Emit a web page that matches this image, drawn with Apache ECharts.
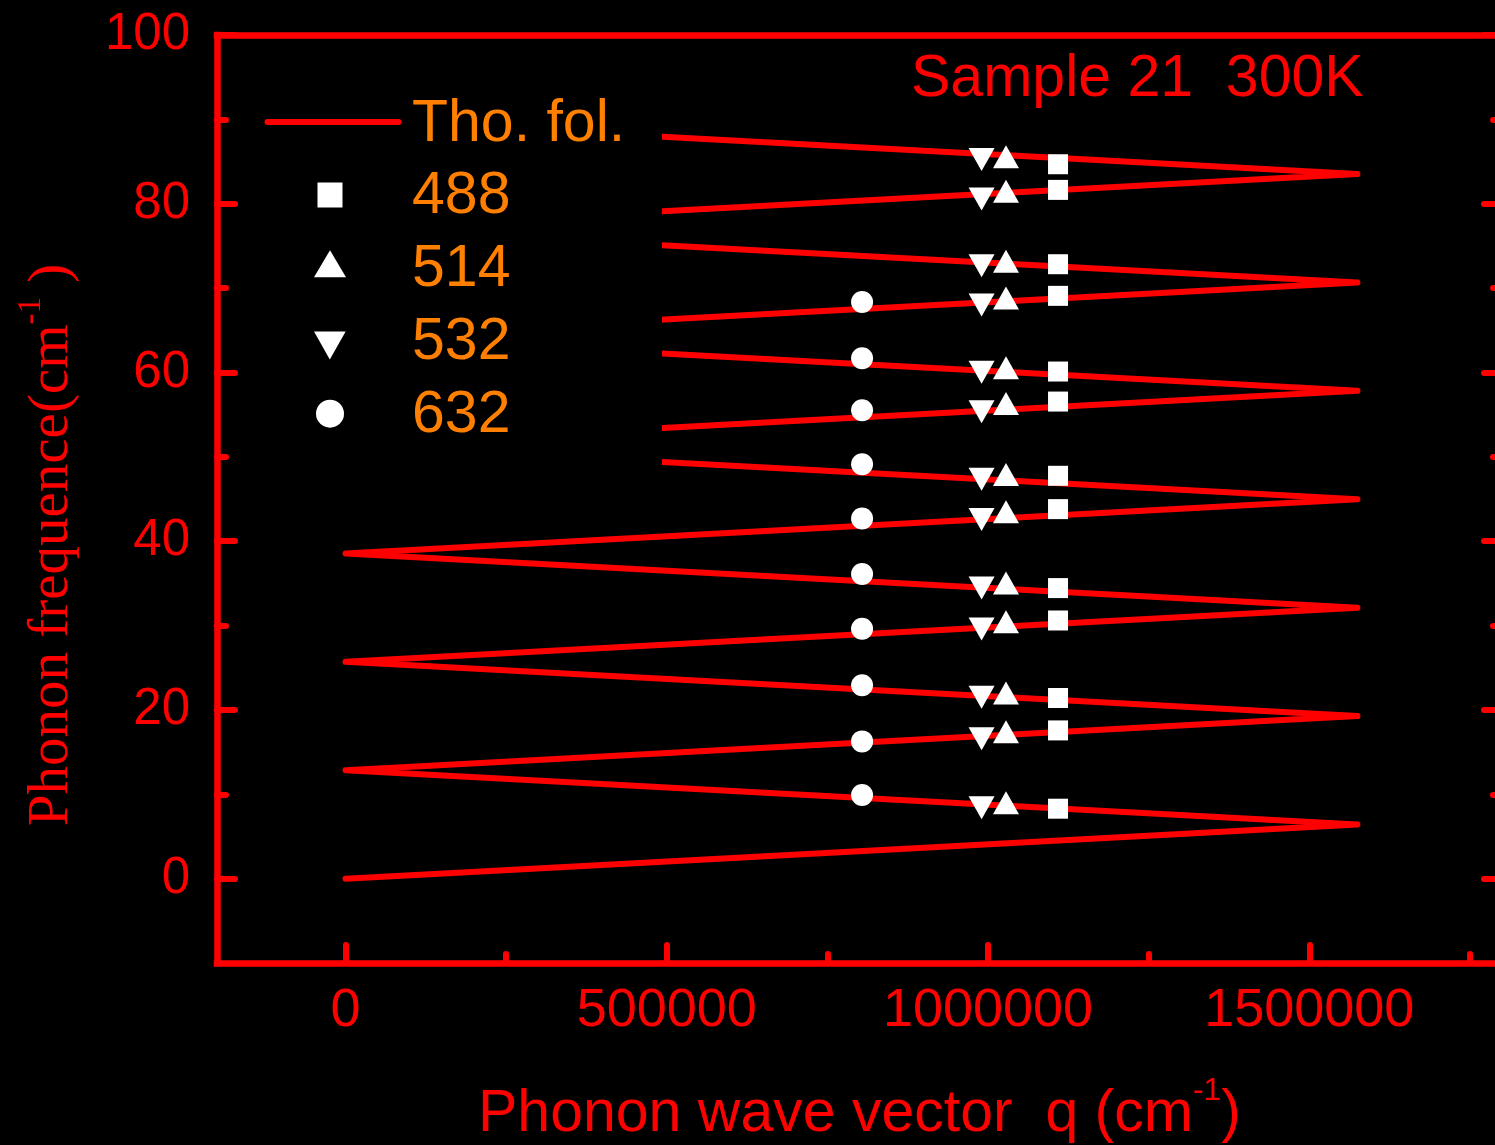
<!DOCTYPE html>
<html>
<head>
<meta charset="utf-8">
<title>Phonon dispersion, Sample 21, 300K</title>
<script src="https://cdn.jsdelivr.net/npm/echarts@6/dist/echarts.min.js"></script>
<style>
  html, body { margin: 0; padding: 0; background: #000; }
  #chart { width: 1495px; height: 1145px; }
</style>
</head>
<body>
<div id="chart"></div>
<script>
// Folded acoustic branch: vertices of the zigzag (wave vector q, frequency)
const foldQ = [0, 1575000, 0, 1575000, 0, 1575000, 0, 1575000, 0, 1575000, 0, 1575000, 0, 1575000, 0];
const foldFreq = [0, 6.42, 12.85, 19.27, 25.70, 32.12, 38.55, 44.97, 51.40, 57.82, 64.25, 70.67, 77.10, 83.52, 89.95];

// Measured Raman peaks for each excitation wavelength (nm)
const laserNames = ['488', '514', '532', '632'];
const laserQ = [1109000, 1028000, 990000, 804000];
const freq488 = [84.68, 81.64, 72.83, 69.08, 60.11, 56.55, 47.75, 43.80, 34.44, 30.60, 21.41, 17.57, 8.29];
const freq514 = [85.58, 81.48, 73.19, 68.84, 60.55, 56.32, 47.90, 43.48, 35.04, 30.45, 22.00, 17.42, 9.00];
const freq532 = [85.25, 80.55, 72.65, 68.01, 60.01, 55.33, 47.33, 42.57, 34.44, 29.60, 21.50, 16.59, 8.41];
const freq632 = [68.34, 61.69, 55.51, 49.11, 42.68, 36.10, 29.62, 22.93, 16.27, 9.92];

// Axis ticks
const xMajorTicks = [0, 500000, 1000000, 1500000];
const xMinorTicks = [250000, 750000, 1250000, 1750000];
const yMajorTicks = [0, 20, 40, 60, 80, 100];
const yMinorTicks = [10, 30, 50, 70, 90];

const RED = '#ff0000';
const ORANGE = '#ff8000';
const SANS = "'Liberation Sans', Arial, sans-serif";
const SERIF = "'Liberation Serif', 'Times New Roman', serif";
const X_MIN = -200000, X_MAX = 1800000, Y_MIN = -10, Y_MAX = 100;

const tickLine = { color: RED, width: 6, cap: 'round' };
const frameLine = { color: RED, width: 6.5, cap: 'square' };

function valueAxis(extra, min, max) {
  return Object.assign({
    type: 'value', min: min, max: max,
    axisLine: { show: false, onZero: false },
    axisTick: { show: false },
    axisLabel: { show: false },
    splitLine: { show: false }
  }, extra);
}

const xAxes = [
  valueAxis({
    position: 'bottom',
    axisLine: { show: true, onZero: false, lineStyle: frameLine },
    axisTick: { show: true, inside: true, length: 18, customValues: xMajorTicks, lineStyle: tickLine },
    axisLabel: {
      show: true, customValues: xMajorTicks, margin: 21, color: RED,
      fontSize: 54, fontFamily: SANS, formatter: v => String(v)
    },
    name: 'Phonon wave vector  q (cm{sup|-1})',
    nameLocation: 'middle', nameGap: 112,
    nameTextStyle: {
      color: RED, fontSize: 59, lineHeight: 80, fontFamily: SANS,
      rich: { sup: { color: RED, fontSize: 32, lineHeight: 32, fontFamily: SANS, verticalAlign: 'top' } }
    }
  }, X_MIN, X_MAX),
  valueAxis({
    position: 'bottom',
    axisTick: { show: true, inside: true, length: 9, customValues: xMinorTicks, lineStyle: tickLine }
  }, X_MIN, X_MAX),
  valueAxis({
    position: 'top',
    axisLine: { show: true, onZero: false, lineStyle: frameLine }
  }, X_MIN, X_MAX)
];

const yAxes = [
  valueAxis({
    position: 'left',
    axisLine: { show: true, onZero: false, lineStyle: frameLine },
    axisTick: { show: true, inside: true, length: 18, customValues: yMajorTicks, lineStyle: tickLine },
    axisLabel: { show: true, customValues: yMajorTicks, margin: 27, color: RED, fontSize: 51, fontFamily: SANS },
    name: 'Phonon frequence(cm{sup|-1} )',
    nameLocation: 'middle', nameGap: 127,
    nameTextStyle: {
      color: RED, fontSize: 57, lineHeight: 75, fontFamily: SERIF, padding: [0, 92, 0, 0],
      rich: { sup: { color: RED, fontSize: 33, lineHeight: 33, fontFamily: SERIF, verticalAlign: 'top' } }
    }
  }, Y_MIN, Y_MAX),
  valueAxis({
    position: 'left',
    axisTick: { show: true, inside: true, length: 9, customValues: yMinorTicks, lineStyle: tickLine }
  }, Y_MIN, Y_MAX),
  valueAxis({
    position: 'right',
    axisLine: { show: true, onZero: false, lineStyle: frameLine },
    axisTick: { show: true, inside: true, length: 18, customValues: yMajorTicks, lineStyle: tickLine }
  }, Y_MIN, Y_MAX),
  valueAxis({
    position: 'right',
    axisTick: { show: true, inside: true, length: 9, customValues: yMinorTicks, lineStyle: tickLine }
  }, Y_MIN, Y_MAX)
];

// Marker shapes and sizes per excitation wavelength
const DOWN_TRIANGLE = 'path://M0,0L26,0L13,23Z';
const markerSymbols = ['rect', 'triangle', DOWN_TRIANGLE, 'circle'];
const markerSizes = [[20, 20], [26, 23], [26, 23], [22, 22]];
const freqLists = [freq488, freq514, freq532, freq632];

const scatterSeries = laserNames.map((name, i) => ({
  type: 'scatter',
  name: name,
  xAxisIndex: 0, yAxisIndex: 0,
  symbol: markerSymbols[i],
  symbolSize: markerSizes[i],
  itemStyle: { color: '#ffffff', opacity: 1 },
  data: freqLists[i].map(f => [laserQ[i], f]),
  z: 5
}));

// Legend: icons and labels are laid out as separate components so that
// each icon and each label sits at its own height.
const legendNames = ['Tho. fol.'].concat(laserNames);
const legendIconSizes = [[131, 6], [25, 25], [32, 27], [32, 28], [28, 28]];
const legendIconCenters = [[330, 122], [330, 195], [330, 263.7], [330, 345.5], [330, 413.7]];
const legendBaselines = [143.3, 215.5, 288.3, 361.2, 434.5];

const hiddenText = { color: 'rgba(0,0,0,0)', fontSize: 1, lineHeight: 1 };
const legendIcons = legendNames.map((name, i) => {
  const w = legendIconSizes[i][0], h = legendIconSizes[i][1];
  return {
    data: [name],
    left: legendIconCenters[i][0] - w / 2,
    top: legendIconCenters[i][1] - h / 2,
    padding: 0,
    itemWidth: w, itemHeight: h,
    lineStyle: { width: 6, cap: 'round' },
    itemStyle: i === 0 ? { opacity: 0 } : {},
    textStyle: hiddenText,
    selectedMode: false
  };
});
const legendLabels = legendNames.map((name, i) => ({
  data: [name],
  icon: 'none',
  left: 407,
  top: legendBaselines[i] - 47.8,
  padding: 0,
  itemWidth: 0, itemHeight: 0,
  textStyle: { color: ORANGE, fontSize: 59, lineHeight: 59, fontFamily: SANS },
  selectedMode: false
}));

const chart = echarts.init(document.getElementById('chart'), null, { renderer: 'canvas' });
chart.setOption({
  backgroundColor: '#000000',
  animation: false,
  title: {
    text: 'Sample 21  300K',
    left: 911, top: 50, padding: 0,
    textStyle: { color: RED, fontSize: 59, lineHeight: 59, fontWeight: 'normal', fontFamily: SANS }
  },
  grid: { left: 217, top: 35, width: 1285, height: 928, outerBoundsMode: 'none', containLabel: false },
  legend: legendIcons.concat(legendLabels),
  graphic: [{
    type: 'rect',
    shape: { x: 245, y: 40, width: 417, height: 438 },
    style: { fill: '#000000' },
    z: 3,
    silent: true
  }],
  xAxis: xAxes,
  yAxis: yAxes,
  series: [{
    type: 'line',
    name: 'Tho. fol.',
    xAxisIndex: 0, yAxisIndex: 0,
    data: foldQ.map((q, i) => [q, foldFreq[i]]),
    symbol: 'none',
    lineStyle: { color: RED, width: 6, cap: 'round', join: 'round' },
    itemStyle: { color: RED },
    z: 2
  }].concat(scatterSeries)
});
</script>
</body>
</html>
